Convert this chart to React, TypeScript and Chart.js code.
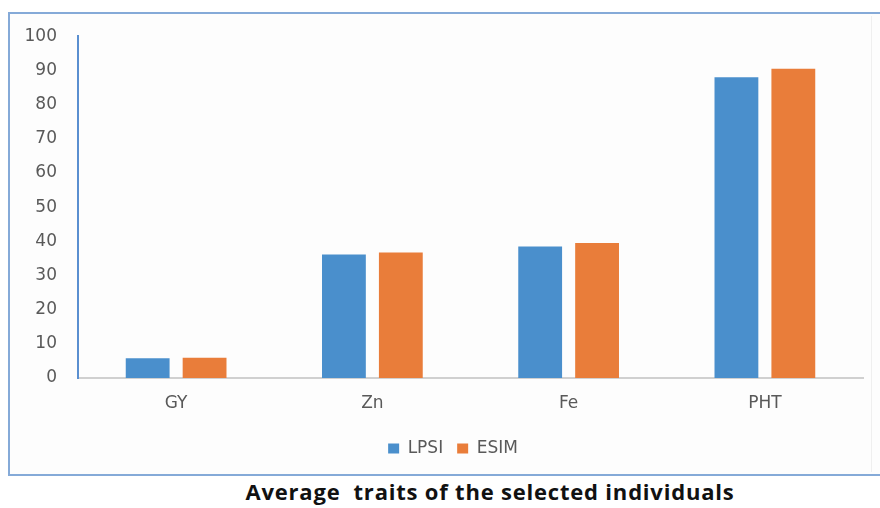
import React, { useEffect, useRef } from "react";
import { Chart, registerables } from "chart.js";

Chart.register(...registerables);

const categories = ["GY", "Zn", "Fe", "PHT"];
const lpsiValues = [5.8, 36.1, 38.5, 88.0];
const esimValues = [5.9, 36.7, 39.5, 90.5];
const seriesNames = ["LPSI", "ESIM"];
const yTicks = { min: 0, max: 100, step: 10 };
const titleText = "Average  traits of the selected individuals";

const FONT = "'DejaVu Sans', sans-serif";

export default function App() {
  const canvasRef = useRef<HTMLCanvasElement | null>(null);

  useEffect(() => {
    document.body.style.margin = "0";
    document.body.style.overflow = "hidden";
    if (!canvasRef.current) return;
    const chart = new Chart(canvasRef.current, {
      type: "bar",
      data: {
        labels: categories,
        datasets: [
          {
            label: seriesNames[0],
            data: lpsiValues,
            backgroundColor: "#4a8fcc",
            categoryPercentage: 0.58,
            barPercentage: 0.77,
          },
          {
            label: seriesNames[1],
            data: esimValues,
            backgroundColor: "#e97d3a",
            categoryPercentage: 0.58,
            barPercentage: 0.77,
          },
        ],
      },
      options: {
        animation: false,
        responsive: true,
        maintainAspectRatio: false,
        layout: { padding: { left: 0, right: 0, top: 0, bottom: 9 } },
        plugins: {
          legend: {
            position: "bottom",
            labels: {
              boxWidth: 11,
              boxHeight: 10,
              padding: 14,
              color: "#595959",
              font: { family: FONT, size: 17 },
            },
          },
          tooltip: { enabled: false },
          title: { display: false },
        },
        scales: {
          x: {
            grid: { display: false, drawTicks: false },
            border: { display: true, color: "#d0d0d0", width: 2 },
            ticks: {
              color: "#595959",
              padding: 15,
              font: { family: FONT, size: 17 },
            },
            afterFit: (scale: any) => {
              scale.height = 48;
            },
          },
          y: {
            min: yTicks.min,
            max: yTicks.max,
            grid: { display: false, drawTicks: false },
            border: { display: true, color: "#5a8fd0", width: 2 },
            ticks: {
              stepSize: yTicks.step,
              color: "#595959",
              padding: 21,
              font: { family: FONT, size: 17 },
            },
            afterFit: (scale: any) => {
              scale.width = 70;
            },
          },
          spacer: {
            type: "linear",
            position: "right",
            display: true,
            grid: { display: false, drawTicks: false },
            border: { display: false },
            ticks: { display: false },
            afterFit: (scale: any) => {
              scale.width = 35;
            },
          },
        },
      },
    });
    return () => chart.destroy();
  }, []);

  return (
    <div
      style={{
        position: "relative",
        width: 880,
        height: 508,
        overflow: "hidden",
        background: "#ffffff",
      }}
    >
      <div
        style={{
          position: "absolute",
          left: 8,
          top: 12,
          width: 900,
          height: 464,
          boxSizing: "border-box",
          border: "2px solid #85aad8",
          background: "#fdfdfd",
        }}
      />
      <div
        style={{
          position: "absolute",
          left: 871,
          top: 16,
          width: 1,
          height: 456,
          background: "#efefef",
        }}
      />
      <div style={{ position: "absolute", left: 8, top: 5, width: 890, height: 471 }}>
        <canvas ref={canvasRef} />
      </div>
      <div
        style={{
          position: "absolute",
          left: 190,
          top: 479,
          width: 600,
          textAlign: "center",
          fontFamily: "'Open Sans', sans-serif",
          fontWeight: 700,
          fontSize: 22,
          letterSpacing: "0.8px",
          lineHeight: "24px",
          color: "#111111",
          whiteSpace: "pre",
        }}
      >
        {titleText}
      </div>
    </div>
  );
}
